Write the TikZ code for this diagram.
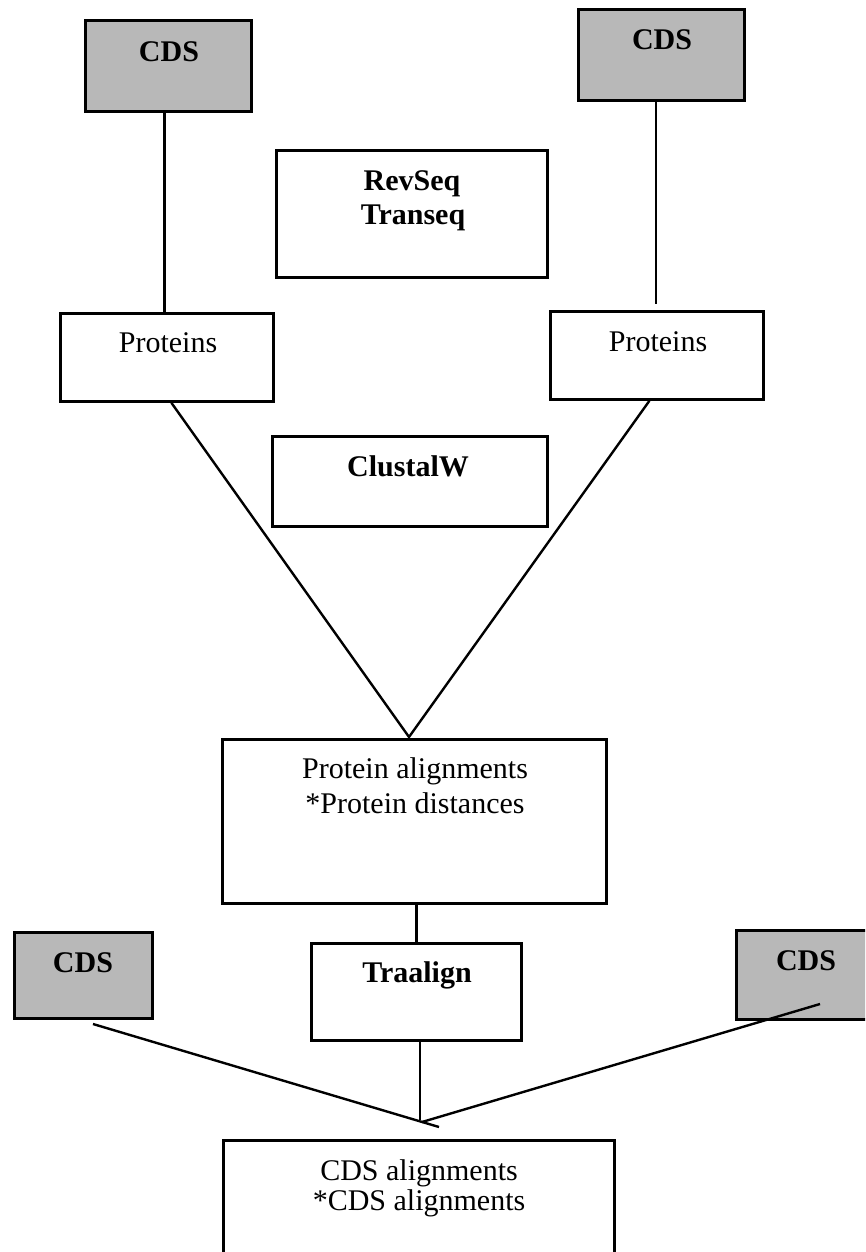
\documentclass[tikz,border=0pt]{standalone}
\usepackage{fontspec}
\setmainfont{Liberation Serif}
\begin{document}
\begin{tikzpicture}[x=1pt,y=-1pt,
  box/.style={draw,line width=2.8pt,rectangle,inner sep=0pt,anchor=north west},
  cdsbox/.style={box,fill=black!28},
  lbl/.style={anchor=base,inner sep=0pt,font=\fontsize{30}{30}\selectfont},
  blbl/.style={anchor=base,inner sep=0pt,font=\fontsize{30}{30}\selectfont\bfseries},
  conn/.style={line width=2.4pt}]
\useasboundingbox (0,0) rectangle (865,1252);
\fill[white] (0,0) rectangle (865,1252);
\clip (0,0) rectangle (865,1252);

% boxes
\node[cdsbox, minimum width=166pt, minimum height=91pt] (cdsTL) at (84,19) {};
\node[cdsbox, minimum width=166pt, minimum height=91pt] (cdsTR) at (577,8) {};
\node[box, minimum width=271pt, minimum height=127pt] (rev) at (275,149) {};
\node[box, minimum width=213pt, minimum height=88pt] (pL) at (59,312) {};
\node[box, minimum width=213pt, minimum height=88pt] (pR) at (549,310) {};
\node[box, minimum width=275pt, minimum height=90pt] (clu) at (271,435) {};
\node[box, minimum width=384pt, minimum height=164pt] (pa) at (221,738) {};
\node[box, minimum width=210pt, minimum height=97pt] (tra) at (310,942) {};
\node[cdsbox, minimum width=138pt, minimum height=86pt] (cdsBL) at (13,931) {};
\node[cdsbox, minimum width=150pt, minimum height=89pt] (cdsBR) at (735,929) {};
\node[box, minimum width=391pt, minimum height=140pt] (cdsal) at (222,1139) {};

% texts
\node[blbl] (tCDS1) at (169,62) {CDS};
\node[blbl] (tCDS2) at (662,50) {CDS};
\node[blbl] (tRev) at (412,190) {RevSeq};
\node[blbl] (tTrans) at (413,224) {Transeq};
\node[lbl] (tPL) at (168,352) {Proteins};
\node[lbl] (tPR) at (658,351) {Proteins};
\node[blbl] (tClu) at (408,476) {ClustalW};
\node[lbl] (tPA1) at (415,778) {Protein alignments};
\node[lbl] (tPA2) at (415,813) {*Protein distances};
\node[blbl] (tTra) at (417,982) {Traalign};
\node[blbl] (tCDS3) at (83,972) {CDS};
\node[blbl] (tCDS4) at (806,970) {CDS};
\node[lbl] (tCA1) at (419,1180) {CDS alignments};
\node[lbl] (tCA2) at (419,1210) {*CDS alignments};

% connectors
\draw[conn] ([xshift=-4pt]cdsTL.south) -- ([xshift=-4pt]cdsTL.south |- pL.north);
\coordinate (rEnd) at (656,304);
\draw[conn] (cdsTR.south -| rEnd) -- (rEnd);
\coordinate (apex1) at (409,737);
\draw[conn] ([xshift=4.5pt]pL.south) -- (apex1) -- ([xshift=-7.5pt]pR.south);
\draw[conn] (tra.north |- pa.south) -- (tra.north);
\coordinate (apex2) at (420,1120);
\draw[conn] (tra.south -| apex2) -- (apex2);
\coordinate (bl0) at (93,1024);
\coordinate (bl1) at (439,1127);
\draw[conn] (bl0) -- (bl1);
\coordinate (br0) at (820,1004);
\coordinate (br1) at (422,1122);
\draw[conn] (br0) -- (br1);
\end{tikzpicture}
\end{document}
